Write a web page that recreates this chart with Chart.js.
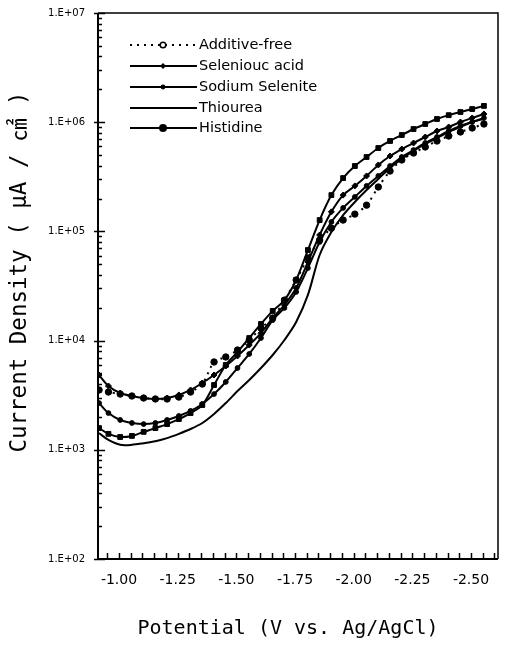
<!DOCTYPE html>
<html>
<head>
<meta charset="utf-8">
<script src="https://cdn.jsdelivr.net/npm/chart.js@4.4.1/dist/chart.umd.min.js"></script>
<style>
  html, body { margin: 0; padding: 0; background: #fff; }
  canvas { display: block; }
</style>
</head>
<body>
<canvas id="c" width="510" height="657"></canvas>
<script>
// ---------- data ----------
const potentials = [-0.915, -0.955, -1.005, -1.055, -1.105, -1.155, -1.205, -1.255, -1.305, -1.355, -1.405, -1.455, -1.505, -1.555, -1.605, -1.655, -1.705, -1.755, -1.805, -1.855, -1.905, -1.955, -2.005, -2.055, -2.105, -2.155, -2.205, -2.255, -2.305, -2.355, -2.405, -2.455, -2.505, -2.555];

const additiveFree = [3530, 3380, 3240, 3110, 2980, 2920, 2920, 3040, 3380, 4000, 6370, 7080, 8200, 10130, 13000, 16100, 23500, 35900, 57100, 83400, 107000, 127000, 144000, 174000, 255000, 357000, 451000, 522000, 593000, 673000, 747000, 813000, 885000, 963000];
const seleniousAcid = [4840, 3840, 3310, 3110, 2980, 2920, 2980, 3180, 3530, 4090, 4840, 5850, 7230, 9110, 11700, 16100, 21200, 30300, 52500, 92700, 151000, 215000, 261000, 322000, 406000, 490000, 568000, 645000, 732000, 831000, 904000, 1004000, 1093000, 1189000];
const sodiumSelenite = [2680, 2170, 1875, 1760, 1720, 1760, 1875, 2040, 2270, 2630, 3240, 4180, 5610, 7540, 10560, 15400, 19900, 27900, 46200, 80000, 122000, 164000, 207000, 261000, 322000, 397000, 480000, 556000, 645000, 732000, 831000, 923000, 1004000, 1093000];
const thiourea = [1420, 1230, 1110, 1110, 1150, 1200, 1280, 1400, 1550, 1760, 2130, 2680, 3450, 4360, 5610, 7380, 10130, 14800, 26200, 60800, 98700, 141000, 186000, 239000, 302000, 381000, 460000, 545000, 632000, 717000, 813000, 904000, 1004000, 1070000];
const histidine = [1580, 1400, 1310, 1340, 1460, 1580, 1720, 1910, 2170, 2570, 3920, 5980, 7860, 10560, 14200, 18700, 23500, 35900, 67500, 127000, 215000, 308000, 397000, 480000, 580000, 673000, 763000, 866000, 963000, 1070000, 1160000, 1240000, 1320000, 1410000];

const seriesNames = ['Additive-free', 'Seleniouc acid', 'Sodium Selenite', 'Thiourea', 'Histidine'];

const xTickValues = [-1.00, -1.25, -1.50, -1.75, -2.00, -2.25, -2.50];
const xTickLabels = ['-1.00', '-1.25', '-1.50', '-1.75', '-2.00', '-2.25', '-2.50'];
const xMinorTicks = [-0.95, -1.00, -1.05, -1.10, -1.15, -1.20, -1.25, -1.30, -1.35, -1.40, -1.45, -1.50, -1.55, -1.60, -1.65, -1.70, -1.75, -1.80, -1.85, -1.90, -1.95, -2.00, -2.05, -2.10, -2.15, -2.20, -2.25, -2.30, -2.35, -2.40, -2.45, -2.50, -2.55, -2.60];
const yTickValues = [1e2, 1e3, 1e4, 1e5, 1e6, 1e7];
const yTickLabels = ['1.E+02', '1.E+03', '1.E+04', '1.E+05', '1.E+06', '1.E+07'];

const xTitle = 'Potential (V vs. Ag/AgCl)';
const yTitle = 'Current Density ( μA / ㎠ )';

// ---------- build ----------
function pts(vals) { return potentials.map((p, i) => ({ x: p, y: vals[i] })); }

const styles = [
  { dash: [2, 5], pointStyle: 'circle', r: 3.2 },
  { dash: [], pointStyle: 'rectRot', r: 3 },
  { dash: [], pointStyle: 'circle', r: 2.4 },
  { dash: [], pointStyle: 'circle', r: 0 },
  { dash: [], pointStyle: 'rect', r: 3.4 }
];
const seriesVals = [additiveFree, seleniousAcid, sodiumSelenite, thiourea, histidine];

const datasets = seriesVals.map((v, i) => ({
  label: seriesNames[i],
  data: pts(v),
  borderColor: '#000',
  backgroundColor: '#000',
  borderWidth: 2,
  borderDash: styles[i].dash,
  pointStyle: styles[i].pointStyle,
  pointRadius: styles[i].r,
  pointBorderWidth: 1,
  pointBackgroundColor: '#000',
  pointBorderColor: '#000',
  tension: 0.3,
  fill: false
}));

const frameAndTicks = {
  id: 'frameAndTicks',
  afterDraw(chart) {
    const { ctx, chartArea: a } = chart;
    const xs = chart.scales.x, ys = chart.scales.y;
    ctx.save();
    ctx.strokeStyle = '#000';
    // frame
    ctx.lineWidth = 2;
    ctx.beginPath();
    ctx.moveTo(a.left, a.top); ctx.lineTo(a.left, a.bottom); ctx.lineTo(a.right, a.bottom);
    ctx.stroke();
    ctx.lineWidth = 1.5;
    ctx.beginPath();
    ctx.moveTo(a.left, a.top); ctx.lineTo(a.right, a.top); ctx.lineTo(a.right, a.bottom);
    ctx.stroke();
    // x minor ticks (inward)
    ctx.lineWidth = 1.5;
    ctx.beginPath();
    xMinorTicks.forEach(v => {
      const px = Math.round(xs.getPixelForValue(v)) + 0.5;
      if (px > a.left + 2 && px < a.right - 2) { ctx.moveTo(px, a.bottom); ctx.lineTo(px, a.bottom - 6); }
    });
    ctx.stroke();
    // y ticks
    ctx.beginPath();
    yTickValues.forEach((d, k) => {
      const py = Math.round(ys.getPixelForValue(d)) + 0.5;
      ctx.moveTo(a.left - 4, py); ctx.lineTo(a.left + 7, py);
      if (k < yTickValues.length - 1) {
        for (let m = 2; m <= 9; m++) {
          const q = Math.round(ys.getPixelForValue(d * m)) + 0.5;
          ctx.moveTo(a.left, q); ctx.lineTo(a.left + 4, q);
        }
      }
    });
    ctx.stroke();

    // legend
    const rowsY = [45, 66, 87, 108, 128];
    ctx.font = '14.5px "DejaVu Sans"';
    ctx.textBaseline = 'middle';
    ctx.textAlign = 'left';
    ctx.fillStyle = '#000';
    chart.data.datasets.forEach((ds, i) => {
      const y = rowsY[i];
      ctx.lineWidth = 2;
      ctx.setLineDash(ds.borderDash);
      ctx.beginPath(); ctx.moveTo(130, y); ctx.lineTo(197, y); ctx.stroke();
      ctx.setLineDash([]);
      const r = ds.pointRadius;
      if (r > 0) {
        ctx.beginPath();
        if (i === 0) {
          ctx.fillStyle = '#fff'; ctx.lineWidth = 1.5;
          ctx.arc(163, y, 2.8, 0, Math.PI * 2); ctx.fill(); ctx.stroke();
          ctx.fillStyle = '#000';
        } else {
          if (ds.pointStyle === 'rectRot') {
            ctx.moveTo(163, y - r); ctx.lineTo(163 + r, y); ctx.lineTo(163, y + r); ctx.lineTo(163 - r, y); ctx.closePath();
          } else {
            ctx.arc(163, y, i === 4 ? 4 : r, 0, Math.PI * 2);
          }
          ctx.fill();
        }
      }
      ctx.fillText(ds.label, 199, y);
    });

    // axis titles
    ctx.font = '20px "DejaVu Sans Mono", "Noto Sans CJK KR"';
    ctx.textAlign = 'center';
    ctx.textBaseline = 'middle';
    ctx.fillText(xTitle, 288, 629);
    ctx.translate(20, 272);
    ctx.rotate(-Math.PI / 2);
    ctx.font = '22.5px "DejaVu Sans Mono", "Noto Sans CJK KR"';
    ctx.fillText(yTitle, 0, 0);
    ctx.restore();
  }
};

new Chart(document.getElementById('c'), {
  type: 'line',
  data: { datasets },
  plugins: [frameAndTicks],
  options: {
    responsive: false,
    animation: false,
    devicePixelRatio: 1,
    layout: { padding: { left: 0, right: 12, top: 13, bottom: 0 } },
    plugins: { legend: { display: false }, tooltip: { enabled: false } },
    scales: {
      x: {
        type: 'linear', reverse: true, min: -2.615, max: -0.9105,
        afterBuildTicks: s => { s.ticks = xTickValues.map(v => ({ value: v })); },
        afterFit: s => { s.height = 98; s.paddingLeft = 0; s.paddingRight = 0; },
        ticks: {
          autoSkip: false, maxRotation: 0, padding: 13, color: '#000',
          font: { family: 'DejaVu Sans', size: 14 },
          callback: (v, i) => xTickLabels[i]
        },
        grid: { display: false, drawTicks: false },
        border: { display: false }
      },
      y: {
        type: 'logarithmic', min: 100, max: 1e7,
        afterBuildTicks: s => { s.ticks = yTickValues.map(v => ({ value: v })); },
        afterFit: s => { s.width = 98; s.paddingTop = 0; s.paddingBottom = 0; },
        ticks: {
          autoSkip: false, padding: 13, color: '#000',
          font: { family: 'DejaVu Sans', size: 10 },
          callback: (v, i) => yTickLabels[i]
        },
        grid: { display: false, drawTicks: false },
        border: { display: false }
      }
    }
  }
});
</script>
</body>
</html>
